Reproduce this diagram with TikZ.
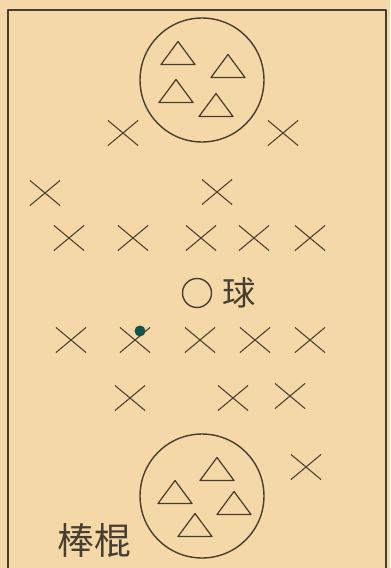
\documentclass[tikz,border=0pt]{standalone}
\usepackage{fontspec}
\newfontfamily\cjk{Noto Sans CJK SC}
\usetikzlibrary{shapes.misc,positioning}
\definecolor{paper}{RGB}{245,216,167}
\definecolor{ink}{RGB}{72,62,48}
\definecolor{stain}{RGB}{22,82,72}

\begin{document}
\begin{tikzpicture}[x=0.02cm,y=-0.02cm,line join=round,
  fielder/.style={draw=ink,cross out,line width=0.6pt,minimum width=0.58cm,minimum height=0.48cm,inner sep=0pt},
  zone/.style={draw=ink,circle,line width=0.8pt,minimum size=2.48cm,inner sep=0pt},
  batter/.pic={\draw[ink,line width=0.7pt] (-17,11.5) -- (0,-11.5) -- (17,11.5) -- cycle;},
  hanzi/.style={text=ink,font=\cjk\fontsize{19pt}{19pt}\selectfont,inner sep=0pt}]
\useasboundingbox[fill=paper] (0,0) rectangle (390,568);
\draw[ink,line width=1.2pt] (8,568) -- (8,10) -- (386,10) -- (386,568);
% top group
\node[zone] (top) at (202,80) {};
\pic at (178,53) {batter}; \pic at (228,66) {batter};
\pic at (176,91) {batter}; \pic at (216,105) {batter};
% fielders
\node[fielder] (x1) at (123,133) {}; \node[fielder] (x2) at (283,133) {};
\node[fielder] (x3) at (45,193) {}; \node[fielder] (x4) at (217,192) {};
\node[fielder] (x5) at (69,238) {}; \node[fielder] (x6) at (133,238) {};
\node[fielder] (x7) at (201,238) {}; \node[fielder] (x8) at (254,238) {};
\node[fielder] (x9) at (310,238) {};
\node[fielder] (x10) at (71,340) {}; \node[fielder] (x11) at (135,340) {};
\node[fielder] (x12) at (200,340) {}; \node[fielder] (x13) at (255,340) {};
\node[fielder] (x14) at (310,340) {};
\node[fielder] (x15) at (130,398) {}; \node[fielder] (x16) at (233,398) {};
\node[fielder] (x17) at (290,396) {}; \node[fielder] (x18) at (306,467) {};
% ball
\node[draw=ink,circle,line width=0.8pt,minimum size=0.58cm,inner sep=0pt] (ball) at (197,293) {};
\node[hanzi,right=0.2cm of ball] (qiu) {球};
\node[circle,fill=stain,minimum size=0.22cm,inner sep=0pt] (dot) at (140,331) {};
% bottom group
\node[zone] (bottom) at (202,496) {};
\pic at (217,469) {batter}; \pic at (175,492) {batter};
\pic at (234,503) {batter}; \pic at (195,525) {batter};
\node[hanzi,font=\cjk\fontsize{21pt}{21pt}\selectfont] (bang) at (94,540) {棒棍};
\end{tikzpicture}
\end{document}
